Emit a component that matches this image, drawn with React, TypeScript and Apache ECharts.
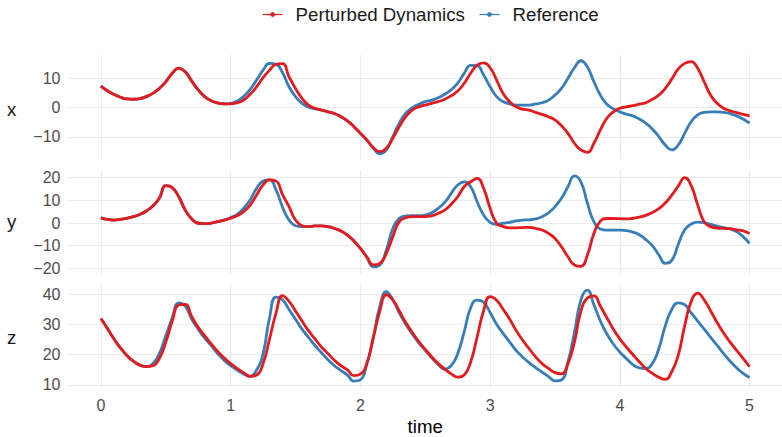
import React, { useEffect, useRef } from "react";
import * as echarts from "echarts";

// sampling grid, t = 0 .. 5 step 0.05
const time: number[] = Array.from({ length: 101 }, (_, i) => Math.round(i * 5) / 100);

const xPert = [7.4,5.8,4.6,3.6,3.0,2.9,3.1,3.8,4.9,6.6,8.9,11.8,13.6,12.3,9.1,6.1,3.8,2.4,1.6,1.3,
  1.3,1.7,2.6,4.6,7.2,10.3,12.9,14.9,15.1,10.6,6.6,3.2,0.9,-0.2,-0.8,-1.4,-2.0,-3.1,-4.5,-6.5,
  -8.8,-11.1,-13.7,-15.1,-13.9,-10.5,-6.5,-3.1,-0.8,0.3,0.9,1.5,2.1,2.9,4.1,5.7,8.4,11.8,14.6,15.4,
  13.7,9.5,4.9,2.1,0.3,-0.5,-0.8,-1.6,-2.3,-3.1,-4.2,-6.2,-8.8,-12.2,-14.5,-15.3,-12.2,-7.6,-3.6,-1.4,
  -0.2,0.3,0.7,1.2,1.7,2.9,4.3,6.6,9.8,13.3,15.2,15.8,13.5,8.9,4.3,1.5,-0.2,-1.1,-1.7,-2.3,-2.8];
const xRef = [7.4,5.8,4.6,3.6,3.0,2.9,3.1,3.8,4.9,6.6,8.9,11.8,13.6,12.3,9.1,6.1,3.8,2.4,1.6,1.3,
  1.5,2.3,3.8,6.3,9.5,12.9,15.2,14.9,12.0,7.2,3.8,1.5,0.2,-0.4,-0.8,-1.4,-2.0,-3.1,-4.5,-6.5,
  -8.8,-11.1,-13.9,-15.8,-14.5,-9.9,-5.3,-1.9,0.0,1.2,2.1,2.6,3.4,4.6,6.1,8.4,11.8,14.5,14.4,11.2,
  7.2,3.8,2.1,1.3,0.9,0.9,0.9,1.3,1.7,2.6,4.3,6.6,10.1,13.7,16.1,14.0,8.9,4.3,1.2,-0.4,
  -1.4,-2.2,-2.8,-3.9,-5.3,-7.3,-9.9,-12.8,-14.5,-12.8,-8.8,-4.8,-2.5,-1.6,-1.4,-1.4,-1.6,-2.0,-2.8,-3.9,-5.3];

const yPert = [2.3,1.6,1.3,1.6,2.1,2.8,3.8,5.3,7.5,10.9,16.5,15.6,11.6,5.7,1.8,-0.1,-0.3,0.0,0.6,1.3,
  2.1,3.2,5.0,7.9,12.4,16.8,19.0,18.5,12.5,7.2,1.3,-1.2,-1.6,-1.3,-1.3,-1.6,-2.4,-3.5,-5.3,-7.9,
  -11.2,-14.9,-18.5,-17.8,-13.4,-6.0,0.6,2.3,2.8,2.8,2.8,3.2,4.3,5.7,8.3,11.6,16.0,18.2,19.7,15.3,
  6.5,-0.1,-1.6,-2.1,-2.1,-2.0,-1.9,-2.4,-3.1,-4.6,-6.8,-10.5,-14.9,-18.5,-19.1,-14.1,-4.6,0.8,2.0,2.0,
  1.9,1.8,2.1,2.6,3.4,4.6,6.3,8.8,12.3,16.3,20.0,16.5,8.0,0.5,-1.6,-2.2,-2.4,-2.5,-3.0,-3.5,-4.6];
const yRef = [2.3,1.6,1.3,1.6,2.1,2.8,3.8,5.3,7.5,10.9,16.5,15.6,11.6,5.7,1.8,-0.1,-0.3,0.0,0.6,1.3,
  2.4,3.8,6.5,10.2,15.3,18.5,19.0,14.6,7.0,1.3,-1.2,-1.6,-1.6,-1.3,-1.3,-1.6,-2.4,-3.5,-5.3,-7.9,
  -11.2,-15.2,-19.3,-18.5,-11.9,-2.4,2.1,3.1,3.2,3.2,3.5,4.5,6.5,9.1,13.1,16.8,18.2,16.0,9.4,3.5,
  0.3,-0.6,-0.1,0.3,0.9,1.3,1.4,1.8,2.8,4.5,7.2,10.9,16.0,20.8,18.2,8.7,0.6,-2.6,-3.1,-3.1,
  -3.1,-3.4,-4.0,-5.2,-7.3,-10.0,-14.0,-17.8,-16.5,-9.5,-3.0,-0.5,0.4,0.2,-0.6,-1.4,-2.0,-2.6,-3.8,-6.0,-9.0];

const zPert = [31.9,28.6,25.2,22.2,19.7,17.8,16.5,16.0,16.3,18.7,24.1,31.1,36.4,36.6,32.5,29.0,26.2,23.5,21.0,18.9,
  17.0,15.4,14.0,12.8,13.2,17.0,25.2,33.8,39.5,37.6,34.4,31.1,27.9,25.2,22.5,20.3,18.1,16.3,14.9,13.0,
  13.5,17.0,25.7,34.4,39.8,38.1,34.4,30.6,27.3,24.3,21.7,19.2,17.0,15.2,13.6,12.5,13.2,17.5,25.8,34.5,
  39.2,38.0,35.0,31.8,28.0,24.8,22.0,19.3,17.0,15.4,14.0,13.6,17.0,24.1,34.4,38.7,39.4,36.0,32.2,28.4,
  25.2,22.5,20.0,17.6,15.4,13.8,12.5,11.8,14.3,19.7,29.5,37.6,40.3,38.1,34.4,30.6,27.1,24.1,21.4,18.7,16.0];
const zRef = [31.9,28.6,25.2,22.2,19.7,17.8,16.5,16.0,17.0,20.3,26.2,32.2,37.1,36.0,31.7,28.4,25.4,23.0,20.3,18.1,
  16.3,14.9,13.6,12.8,14.9,20.3,32.2,39.0,38.1,34.9,31.7,28.4,25.7,23.0,20.6,18.3,16.3,14.7,13.2,11.2,
  11.6,17.0,25.7,36.0,40.8,38.1,33.8,30.0,26.8,23.9,21.4,18.9,16.7,15.2,16.3,20.3,27.5,35.5,38.0,37.3,
  33.9,30.0,27.0,24.2,21.4,19.2,17.3,15.7,14.2,12.7,11.3,11.6,17.6,27.3,38.1,41.3,36.5,31.1,26.8,23.5,
  20.8,18.7,16.7,15.6,15.4,17.0,21.9,29.5,34.9,37.1,36.5,33.8,31.1,28.4,25.7,23.0,20.3,17.8,15.6,13.8,12.4];

const panelNames = ["x", "y", "z"];
const xTicks = [0, 1, 2, 3, 4, 5];
const yTicksX = [-10, 0, 10];
const yTicksY = [-20, -10, 0, 10, 20];
const yTicksZ = [10, 20, 30, 40];

const RED = "#E41A1C";
const BLUE = "#377EB8";
const FONT = "Liberation Sans, Arial, Helvetica, sans-serif";

const pair = (vals: number[]) => vals.map((v, i) => [time[i], v]);

export default function App() {
  const ref = useRef<HTMLDivElement>(null);
  useEffect(() => {
    document.body.style.margin = "0";
    if (!ref.current) return;
    const chart = echarts.init(ref.current, undefined, { renderer: "svg" });
    const grids = [
      { top: 55, height: 104, min: -17.6, max: 18.08, ticks: yTicksX },
      { top: 170, height: 104, min: -22.5, max: 23.4, ticks: yTicksY },
      { top: 285, height: 104.5, min: 9.09, max: 43.02, ticks: yTicksZ },
    ];
    const fmt = (v: number) => String(v).replace("-", "\u2212");
    const panels = [
      [xRef, xPert],
      [yRef, yPert],
      [zRef, zPert],
    ];
    const series: any[] = [];
    panels.forEach((p, gi) => {
      series.push({
        name: "Reference", type: "line", xAxisIndex: gi, yAxisIndex: gi,
        data: pair(p[0]), smooth: true, showSymbol: false,
        symbol: "circle", symbolSize: 4, lineStyle: { color: BLUE, width: 2.8 },
        itemStyle: { color: BLUE },
      });
    });
    panels.forEach((p, gi) => {
      series.push({
        name: "Perturbed Dynamics", type: "line", xAxisIndex: gi, yAxisIndex: gi,
        data: pair(p[1]), smooth: true, showSymbol: false,
        symbol: "circle", symbolSize: 4, lineStyle: { color: RED, width: 2.8 },
        itemStyle: { color: RED },
      });
    });
    chart.setOption({
      animation: false,
      textStyle: { fontFamily: FONT },
      legend: {
        data: ["Perturbed Dynamics", "Reference"],
        left: 262, top: 5, padding: 0,
        itemWidth: 20, itemHeight: 6, itemGap: 14,
        lineStyle: { width: 1.2 },
        textStyle: { fontSize: 18.7, color: "#1A1A1A", fontFamily: FONT, padding: [0, 0, 0, 8] },
      },
      grid: grids.map((g) => ({ left: 68.5, width: 714, top: g.top, height: g.height, containLabel: false })),
      xAxis: grids.map((g, i) => ({
        type: "value", gridIndex: i, min: -0.25, max: 5.25,
        axisLine: { show: false },
        axisTick: { show: false, customValues: xTicks },
        axisLabel: {
          show: i === 2, customValues: xTicks, color: "#4D4D4D", fontSize: 16, margin: 10, fontFamily: FONT,
        },
        splitLine: { show: true, lineStyle: { color: "#EBEBEB", width: 1.1 } },
        name: i === 2 ? "time" : "",
        nameLocation: "middle", nameGap: 29.5,
        nameTextStyle: { fontSize: 18.7, color: "#000", fontFamily: FONT },
      })),
      yAxis: grids.map((g, i) => ({
        type: "value", gridIndex: i, min: g.min, max: g.max,
        axisLine: { show: false },
        axisTick: { show: false, customValues: g.ticks },
        axisLabel: {
          customValues: g.ticks, color: "#4D4D4D", fontSize: 16, margin: 8, fontFamily: FONT,
          formatter: fmt,
        },
        splitLine: { show: true, lineStyle: { color: "#EBEBEB", width: 1.1 } },
      })),
      graphic: panelNames.map((n, i) => ({
        type: "text", left: 7, top: [100, 212, 328][i],
        style: { text: n, fontSize: 18.7, fill: "#1A1A1A", fontFamily: FONT },
      })),
      series,
    });
    return () => chart.dispose();
  }, []);
  return <div ref={ref} style={{ width: 782, height: 437 }} />;
}
